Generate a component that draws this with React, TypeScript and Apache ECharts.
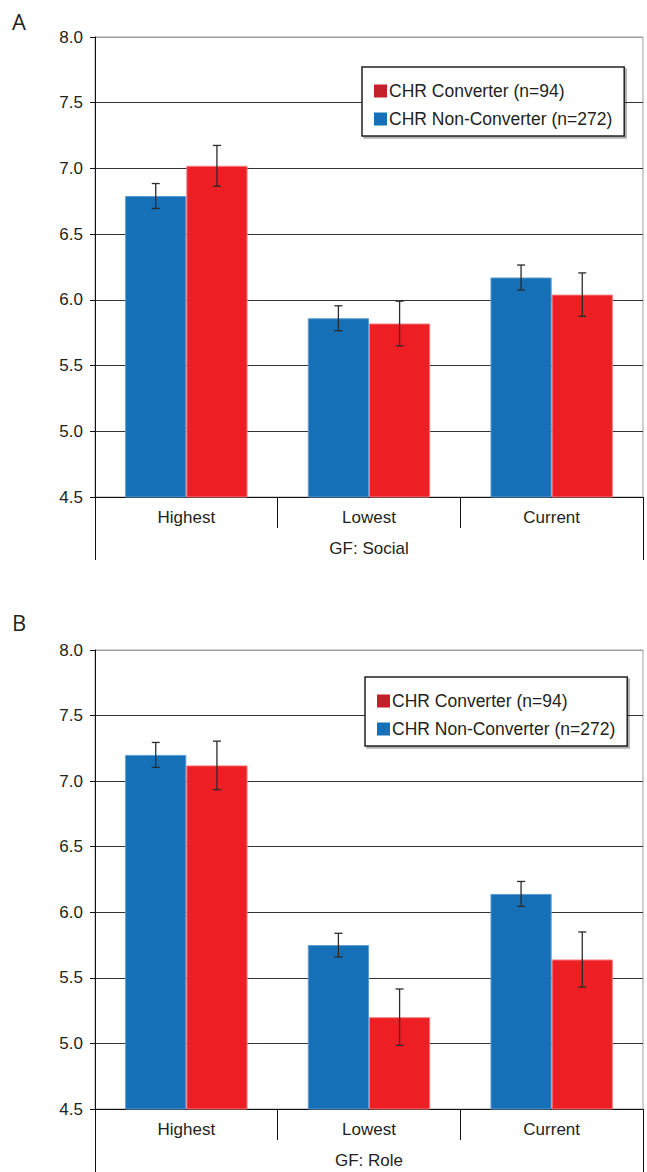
import React, { useEffect, useRef } from "react";
import * as echarts from "echarts";

const categories = ["Highest", "Lowest", "Current"];
const yTicks = [4.5, 5.0, 5.5, 6.0, 6.5, 7.0, 7.5, 8.0];

const socialNonConv = [6.79, 5.86, 6.17];
const socialNonConvErr = [0.095, 0.095, 0.095];
const socialConv = [7.02, 5.82, 6.04];
const socialConvErr = [0.155, 0.17, 0.165];

const roleNonConv = [7.2, 5.75, 6.14];
const roleNonConvErr = [0.095, 0.09, 0.095];
const roleConv = [7.12, 5.2, 5.64];
const roleConvErr = [0.185, 0.215, 0.21];

const NAME_CONV = "CHR Converter (n=94)";
const NAME_NON = "CHR Non-Converter (n=272)";
const panels = [
  { letter: "A", group: "GF: Social", non: socialNonConv, nonErr: socialNonConvErr, conv: socialConv, convErr: socialConvErr },
  { letter: "B", group: "GF: Role", non: roleNonConv, nonErr: roleNonConvErr, conv: roleConv, convErr: roleConvErr },
];

const FONT = "'Liberation Sans', Arial, sans-serif";
const TXT = "#231F20";
const BLUE = "#1570B7";
const RED = "#ED1F24";
const GAP = 0.33;

export default function App() {
  const ref = useRef<HTMLDivElement>(null);
  useEffect(() => {
    document.body.style.margin = "0";
    const chart = echarts.init(ref.current!, null, { renderer: "svg" });
    const grids = [
      { left: 95, top: 37, width: 548, height: 460 },
      { left: 95, top: 650, width: 548, height: 459 },
    ];
    const legendPos = [
      { left: 362, top: 67 },
      { left: 365, top: 677 },
    ];
    const xAxis: any[] = [];
    const yAxis: any[] = [];
    const series: any[] = [];
    const legends: any[] = [];
    const graphics: any[] = [];
    panels.forEach((p, i) => {
      xAxis.push({
        gridIndex: i,
        type: "category",
        data: categories,
        position: "bottom",
        axisLine: { lineStyle: { color: "#111", width: 1 } },
        axisTick: { show: true, length: 31, lineStyle: { color: "#111" } },
        axisLabel: { color: TXT, fontSize: 17, fontFamily: FONT, margin: 12 },
      });
      xAxis.push({
        gridIndex: i,
        type: "category",
        data: [p.group],
        position: "bottom",
        axisLine: { show: false },
        axisTick: { show: true, length: 63, lineStyle: { color: "#111" } },
        axisLabel: { color: TXT, fontSize: 17, fontFamily: FONT, margin: 43 },
      });
      yAxis.push({
        gridIndex: i,
        type: "value",
        min: yTicks[0],
        max: yTicks[yTicks.length - 1],
        interval: 0.5,
        axisLine: { show: true, lineStyle: { color: "#111" } },
        axisTick: { show: true, length: 5, lineStyle: { color: "#111" } },
        axisLabel: { color: TXT, fontSize: 17, fontFamily: FONT, margin: 12, formatter: (v: number) => v.toFixed(1) },
        splitLine: {
          show: true,
          lineStyle: { color: ["#333", "#333", "#333", "#333", "#333", "#333", "#333", "#a0a0a0"], width: 1 },
        },
      });
      const mk = (name: string, vals: number[], color: string, border: string) => ({
        type: "bar",
        name,
        xAxisIndex: i * 2,
        yAxisIndex: i,
        data: vals,
        barGap: "0%",
        barCategoryGap: GAP * 100 + "%",
        itemStyle: { color, borderColor: border, borderWidth: 1 },
        z: 2,
      });
      series.push(mk(NAME_NON, p.non, BLUE, "#5d9bd2"));
      series.push(mk(NAME_CONV, p.conv, RED, "#f57a7d"));
      const errSeries = (vals: number[], errs: number[], side: number) => ({
        type: "custom",
        xAxisIndex: i * 2,
        yAxisIndex: i,
        z: 5,
        silent: true,
        encode: { x: 0, y: [1, 2] },
        data: vals.map((v, k) => [k, v - errs[k], v + errs[k]]),
        renderItem: (params: any, api: any) => {
          const k = api.value(0);
          const lo = api.coord([k, api.value(1)]);
          const hi = api.coord([k, api.value(2)]);
          const band = api.size([1, 0])[0];
          const bw = (band * (1 - GAP)) / 2;
          const x = lo[0] + (side * bw) / 2;
          const cap = 4;
          const st = { stroke: "#2a2a2a", lineWidth: 1.3 };
          return {
            type: "group",
            children: [
              { type: "line", shape: { x1: x, y1: lo[1], x2: x, y2: hi[1] }, style: st },
              { type: "line", shape: { x1: x - cap, y1: lo[1], x2: x + cap, y2: lo[1] }, style: st },
              { type: "line", shape: { x1: x - cap, y1: hi[1], x2: x + cap, y2: hi[1] }, style: st },
            ],
          };
        },
      });
      series.push(errSeries(p.non, p.nonErr, -1));
      series.push(errSeries(p.conv, p.convErr, 1));
      legends.push({
        ...legendPos[i],
        orient: "vertical",
        data: [
          { name: NAME_CONV, itemStyle: { color: "#C4202A", borderWidth: 0 } },
          { name: NAME_NON, itemStyle: { color: BLUE, borderWidth: 0 } },
        ],
        icon: "rect",
        itemWidth: 13,
        itemHeight: 13,
        itemGap: 10,
        padding: [15, 12, 8, 12],
        backgroundColor: "#fff",
        borderColor: "#222",
        borderWidth: 1.5,
        borderRadius: 0,
        shadowColor: "rgba(0,0,0,0.3)",
        shadowOffsetX: 2,
        shadowOffsetY: 2,
        shadowBlur: 0,
        textStyle: { color: TXT, fontSize: 17.5, fontFamily: FONT, padding: [0, 0, 0, -3] },
        selectedMode: false,
      });
      graphics.push({
        type: "text",
        left: 12,
        top: i === 0 ? 10 : 611,
        style: { text: p.letter, fontSize: 22, fontFamily: "'Open Sans', sans-serif", fill: TXT },
      });
    });
    chart.setOption({
      animation: false,
      backgroundColor: "#fff",
      grid: grids.map((g) => ({ ...g, show: true, borderColor: "#a0a0a0", borderWidth: 1, backgroundColor: "transparent" })),
      xAxis,
      yAxis,
      legend: legends,
      series,
      graphic: graphics,
    });
    return () => chart.dispose();
  }, []);
  return <div ref={ref} style={{ width: 647, height: 1172 }} />;
}
